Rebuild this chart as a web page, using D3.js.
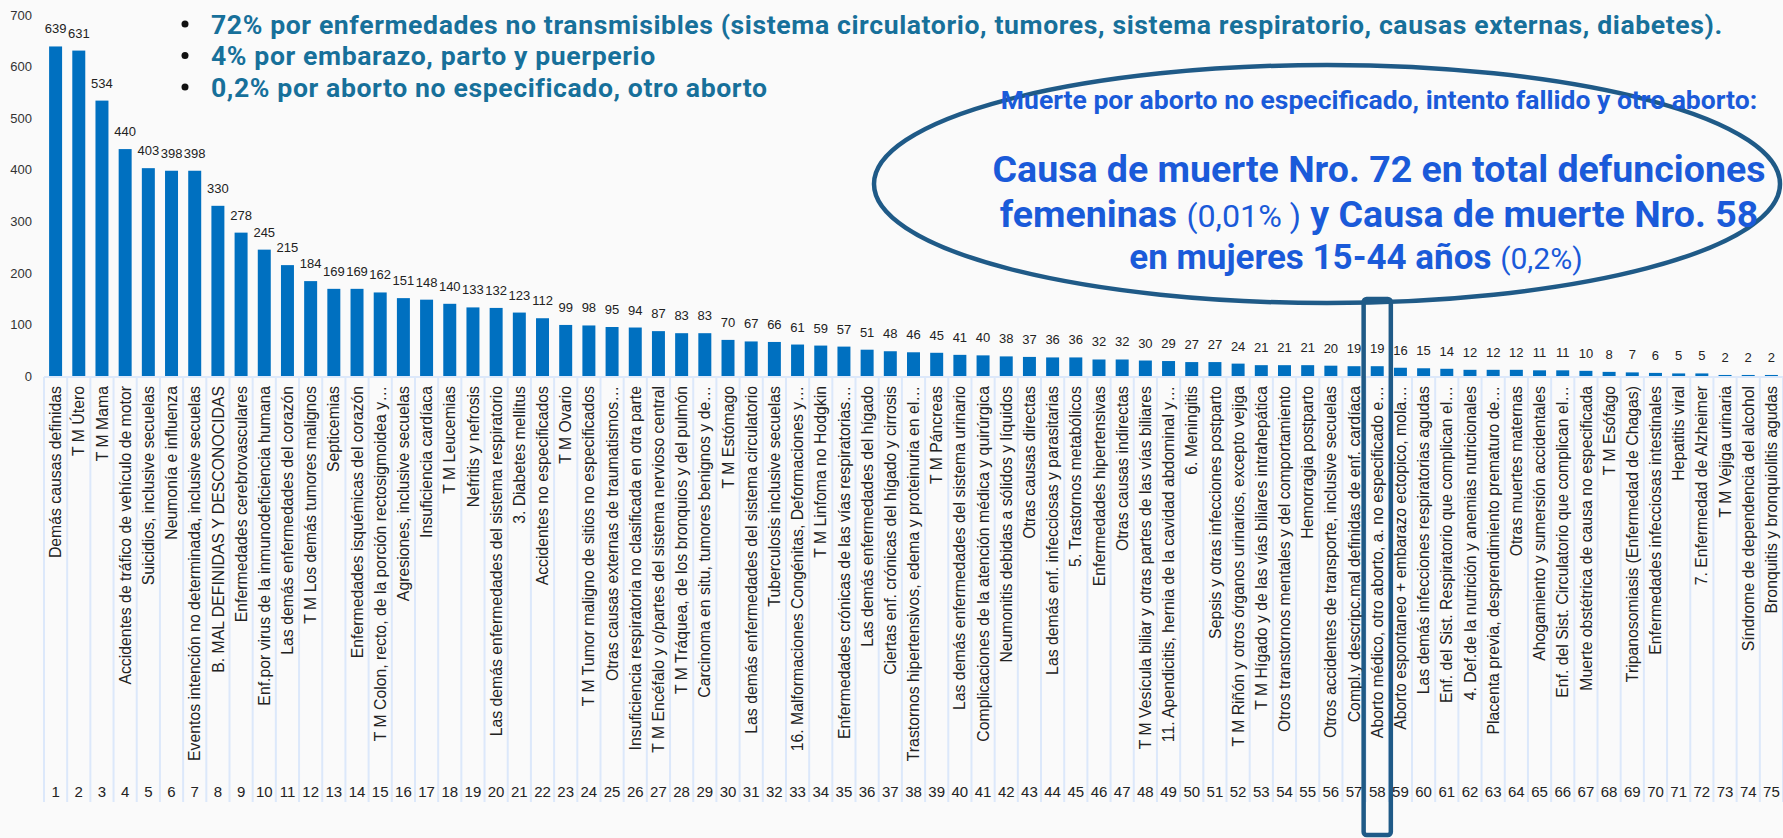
<!DOCTYPE html>
<html>
	<head>
		<meta charset="utf-8">
		<title></title>
		<script src="https://cdn.jsdelivr.net/npm/d3@7/dist/d3.min.js"></script>
		<style>
			body { margin: 0; background: #fafafa; }
			svg { display: block; }
		</style>
	</head>
	<body>
		<script>
			var causas = [
				"Demás causas definidas", "T M  Útero", "T M  Mama",
				"Accidentes de tráfico de vehículo de motor", "Suicidios, inclusive secuelas",
				"Neumonía e influenza", "Eventos intención no determinada, inclusive secuelas",
				"B. MAL DEFINIDAS Y DESCONOCIDAS", "Enfermedades cerebrovasculares",
				"Enf.por virus de la inmunodeficiencia humana", "Las demás enfermedades del corazón",
				"T M  Los demás tumores malignos", "Septicemias", "Enfermedades isquémicas del corazón",
				"T M  Colon, recto,  de la porción rectosigmoidea y…", "Agresiones, inclusive secuelas",
				"Insuficiencia cardíaca", "T M  Leucemias", "Nefritis y nefrosis",
				"Las demás enfermedades del sistema respiratorio", "3. Diabetes mellitus",
				"Accidentes no especificados", "T M  Ovario", "T M  Tumor maligno de sitios no especificados",
				"Otras causas externas de traumatismos…", "Insuficiencia respiratoria no clasificada en otra parte",
				"T M  Encéfalo y o/partes del sistema nervioso central", "T M  Tráquea, de los bronquios y del pulmón",
				"Carcinoma en situ, tumores benignos y de…", "T M  Estómago",
				"Las demás enfermedades del sistema circulatorio", "Tuberculosis inclusive secuelas",
				"16.  Malformaciones Congénitas, Deformaciones y…", "T M  Linfoma no Hodgkin",
				"Enfermedades crónicas de las vías respiratorias…", "Las demás enfermedades del hígado",
				"Ciertas enf. crónicas del hígado y cirrosis", "Trastornos hipertensivos, edema y proteinuria en el…",
				"T M  Páncreas", "Las demás enfermedades del sistema urinario",
				"Complicaciones de la atención médica y quirúrgica", "Neumonitis debidas a sólidos y líquidos",
				"Otras causas directas", "Las demás enf. infecciosas y parasitarias", "5. Trastornos metabólicos",
				"Enfermedades hipertensivas", "Otras causas indirectas",
				"T M  Vesícula biliar y otras partes de las vías biliares",
				"11. Apendicitis, hernia de la cavidad abdominal y…", "6. Meningitis",
				"Sepsis y otras infecciones postparto", "T M  Riñón y otros órganos urinarios, excepto vejiga",
				"T M  Hígado y de las vías biliares intrahepática", "Otros transtornos mentales y del comportamiento",
				"Hemorragia postparto", "Otros accidentes de transporte, inclusive secuelas",
				"Compl.y descripc.mal definidas de enf. cardíaca", "Aborto médico, otro aborto, a. no especificado e…",
				"Aborto espontaneo + embarazo ectopico, mola…", "Las demás infecciones respiratorias agudas",
				"Enf. del Sist. Respiratorio que complican el…", "4. Def.de la nutrición y anemias nutricionales",
				"Placenta previa, desprendimiento prematuro de…", "Otras muertes maternas",
				"Ahogamiento y sumersión accidentales", "Enf. del Sist. Circulatorio que complican el…",
				"Muerte obstétrica de causa no especificada", "T M  Esófago",
				"Tripanosomiasis (Enfermedad de Chagas)", "Enfermedades infecciosas intestinales",
				"Hepatitis viral", "7. Enfermedad de Alzheimer", "T M  Vejiga urinaria",
				"Síndrome de dependencia del alcohol", "Bronquitis y bronquiolitis agudas"
			];
			var defunciones = [639, 631, 534, 440, 403, 398, 398, 330, 278, 245, 215, 184, 169, 169, 162,
				151, 148, 140, 133, 132, 123, 112, 99, 98, 95, 94, 87, 83, 83, 70, 67, 66, 61, 59, 57,
				51, 48, 46, 45, 41, 40, 38, 37, 36, 36, 32, 32, 30, 29, 27, 27, 24, 21, 21, 21, 20, 19,
				19, 16, 15, 14, 12, 12, 12, 11, 11, 10, 8, 7, 6, 5, 5, 2, 2, 2];
			var yTicks = [0, 100, 200, 300, 400, 500, 600, 700];
			var puntos = [
				"72% por enfermedades no transmisibles (sistema circulatorio, tumores, sistema respiratorio, causas externas, diabetes).",
				"4% por embarazo, parto y puerperio",
				"0,2% por aborto no especificado, otro aborto"
			];
			var destacado = 58;

			var w = 1783, h = 838;
			var ranks = causas.map(function(d, i) { return i + 1; });

			var svg = d3.select('body').append('svg')
				.attr('width', w).attr('height', h);

			var x = d3.scaleBand().domain(ranks).range([44, 1783]).paddingInner(0.44).paddingOuter(0.22);
			var xb = d3.scaleBand().domain(ranks).range([44, 1783]);
			var y = d3.scaleLinear().domain([0, 700]).range([376, 15]);

			// y axis
			var yAxis = svg.append('g')
				.attr('transform', 'translate(36,0)')
				.call(d3.axisLeft(y).tickValues(yTicks).tickSize(0).tickPadding(4));
			yAxis.select('.domain').remove();
			yAxis.selectAll('text')
				.attr('font-family', 'Liberation Sans, Arial, sans-serif')
				.attr('font-size', 13).attr('fill', '#333');

			// category table lines
			svg.selectAll('line.sep')
				.data(ranks.concat([76]))
				.enter().append('line')
				.attr('class', 'sep')
				.attr('x1', function(d) { return d <= 75 ? xb(d) : xb(75) + xb.bandwidth(); })
				.attr('x2', function(d) { return d <= 75 ? xb(d) : xb(75) + xb.bandwidth(); })
				.attr('y1', 377).attr('y2', 802)
				.attr('stroke', '#dce8fa').attr('stroke-width', 2);
			svg.append('line')
				.attr('x1', xb(1)).attr('x2', 1783).attr('y1', 377).attr('y2', 377)
				.attr('stroke', '#dce8fa').attr('stroke-width', 2);

			// bars
			svg.selectAll('rect.bar')
				.data(defunciones)
				.enter().append('rect')
				.attr('class', 'bar')
				.attr('x', function(d, i) { return x(i + 1); })
				.attr('y', function(d) { return y(d); })
				.attr('width', x.bandwidth())
				.attr('height', function(d) { return y(0) - y(d); })
				.attr('fill', '#0070c0');

			svg.selectAll('text.val')
				.data(defunciones)
				.enter().append('text')
				.attr('class', 'val')
				.attr('x', function(d, i) { return x(i + 1) + x.bandwidth() / 2; })
				.attr('y', function(d) { return y(d) - 13; })
				.attr('text-anchor', 'middle')
				.attr('font-family', 'Liberation Sans, Arial, sans-serif')
				.attr('font-size', 13).attr('fill', '#222')
				.text(function(d) { return d; });

			// category labels
			svg.selectAll('text.cat')
				.data(causas)
				.enter().append('text')
				.attr('class', 'cat')
				.attr('transform', function(d, i) {
					return 'translate(' + (xb(i + 1) + xb.bandwidth() / 2 + 5.6) + ',386) rotate(-90)';
				})
				.attr('text-anchor', 'end')
				.attr('font-family', 'Liberation Sans, Arial, sans-serif')
				.attr('font-size', 15.8).attr('fill', '#222')
				.text(function(d) { return d; });

			svg.selectAll('text.num')
				.data(ranks)
				.enter().append('text')
				.attr('class', 'num')
				.attr('x', function(d) { return xb(d) + xb.bandwidth() / 2; })
				.attr('y', 797)
				.attr('text-anchor', 'middle')
				.attr('font-family', 'Liberation Sans, Arial, sans-serif')
				.attr('font-size', 15).attr('fill', '#222')
				.text(function(d) { return d; });

			// bullet notes
			var notas = svg.append('g');
			puntos.forEach(function(t, i) {
				var yy = 24 + i * 31.5;
				notas.append('circle').attr('cx', 185).attr('cy', yy).attr('r', 3.5).attr('fill', '#111');
				notas.append('text')
					.attr('x', 211).attr('y', yy).attr('dy', '0.36em')
					.attr('font-family', 'Roboto, sans-serif').attr('font-weight', 700)
					.attr('font-size', 26.6).attr('letter-spacing', 0.6).attr('fill', '#17709a')
					.text(t);
			});

			// ellipse annotation
			svg.append('ellipse')
				.attr('cx', 1327).attr('cy', 184).attr('rx', 453).attr('ry', 119)
				.attr('fill', 'none').attr('stroke', '#1f5a87').attr('stroke-width', 4.5);

			var azul = '#1a5ad9';
			var lineas = [
				{ y: 99, size: 26.5, parts: [["Muerte por aborto no especificado, intento fallido y otro aborto:", 700]] },
				{ y: 168, size: 37.5, parts: [["Causa de muerte Nro. 72 en total defunciones", 700]] },
				{ y: 213, size: 37.5, parts: [["femeninas ", 700], ["(0,01% )", 400], [" y Causa de muerte Nro. 58", 700]] },
				{ y: 256, size: 35, parts: [["en mujeres 15-44 años ", 700], ["(0,2%)", 400]] }
			];
			lineas.forEach(function(l, i) {
				var t = svg.append('text')
					.attr('x', i === 3 ? 1356 : 1379).attr('y', l.y).attr('dy', '0.36em')
					.attr('text-anchor', 'middle')
					.attr('font-family', 'Roboto, sans-serif')
					.attr('font-size', l.size).attr('fill', azul);
				l.parts.forEach(function(p) {
					t.append('tspan').attr('font-weight', p[1])
						.attr('font-size', p[1] === 400 ? l.size * 0.86 : l.size)
						.text(p[0]);
				});
			});

			// highlight box
			svg.append('rect')
				.attr('x', xb(destacado) - 2).attr('y', 299)
				.attr('width', xb.bandwidth() + 4).attr('height', 536)
				.attr('rx', 3)
				.attr('fill', 'none').attr('stroke', '#1f5a87').attr('stroke-width', 4.5);
		</script>
	</body>
</html>
